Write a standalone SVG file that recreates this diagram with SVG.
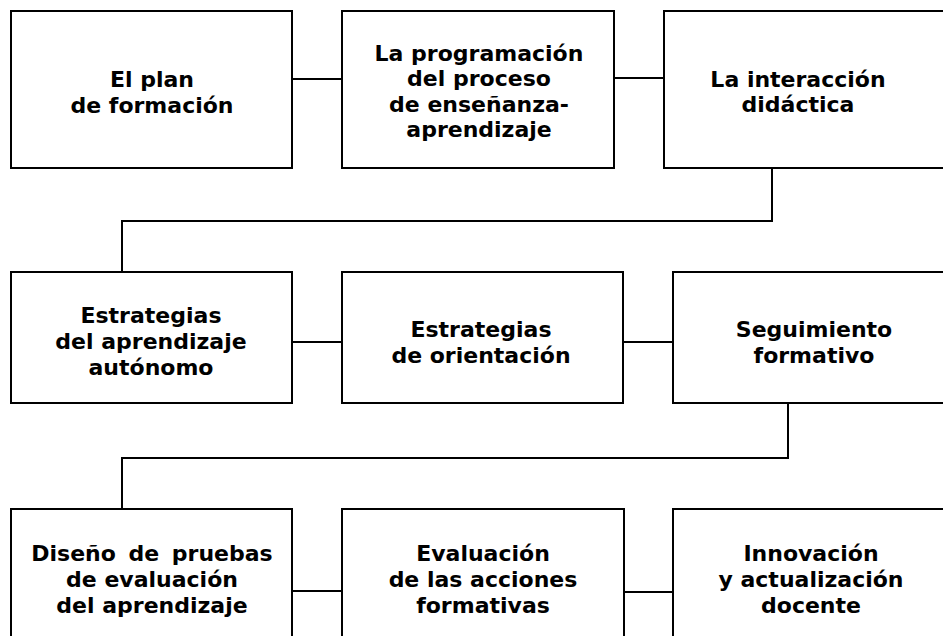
<svg xmlns="http://www.w3.org/2000/svg" width="943" height="636" viewBox="0 0 943 636">
<style>
.box{fill:#fff;stroke:#000;stroke-width:2}
.c{fill:none;stroke:#000;stroke-width:2}
text{font-family:"DejaVu Sans","Liberation Sans",sans-serif;font-weight:bold;font-size:22px;fill:#000;text-anchor:middle}
</style>
<rect width="943" height="636" fill="#fff"/>
<g id="connectors">
<line class="c" x1="292" y1="79" x2="342" y2="79"/>
<line class="c" x1="614" y1="78" x2="664" y2="78"/>
<polyline class="c" points="772,168 772,221 122,221 122,272"/>
<line class="c" x1="292" y1="342" x2="342" y2="342"/>
<line class="c" x1="623" y1="342" x2="673" y2="342"/>
<polyline class="c" points="788,403 788,458 122,458 122,509"/>
<line class="c" x1="292" y1="591" x2="342" y2="591"/>
<line class="c" x1="624" y1="592" x2="673" y2="592"/>
</g>
<g id="n1">
<rect class="box" x="11" y="11" width="281" height="157"/>
<text x="152" y="87">El plan</text>
<text x="152" y="113">de formación</text>
</g>
<g id="n2">
<rect class="box" x="342" y="11" width="272" height="157"/>
<text x="479" y="61">La programación</text>
<text x="479" y="86">del proceso</text>
<text x="479" y="112">de enseñanza-</text>
<text x="479" y="137">aprendizaje</text>
</g>
<g id="n3">
<rect class="box" x="664" y="11" width="290" height="157"/>
<text x="798" y="87">La interacción</text>
<text x="798" y="112">didáctica</text>
</g>
<g id="n4">
<rect class="box" x="11" y="272" width="281" height="131"/>
<text x="151" y="323">Estrategias</text>
<text x="151" y="349">del aprendizaje</text>
<text x="151" y="375">autónomo</text>
</g>
<g id="n5">
<rect class="box" x="342" y="272" width="281" height="131"/>
<text x="481" y="337">Estrategias</text>
<text x="481" y="363">de orientación</text>
</g>
<g id="n6">
<rect class="box" x="673" y="272" width="281" height="131"/>
<text x="814" y="337">Seguimiento</text>
<text x="814" y="363">formativo</text>
</g>
<g id="n7">
<rect class="box" x="11" y="509" width="281" height="140"/>
<text x="152" y="561" word-spacing="5">Diseño de pruebas</text>
<text x="152" y="587">de evaluación</text>
<text x="152" y="613">del aprendizaje</text>
</g>
<g id="n8">
<rect class="box" x="342" y="509" width="282" height="140"/>
<text x="483" y="561">Evaluación</text>
<text x="483" y="587">de las acciones</text>
<text x="483" y="613">formativas</text>
</g>
<g id="n9">
<rect class="box" x="673" y="509" width="281" height="140"/>
<text x="811" y="561">Innovación</text>
<text x="811" y="587">y actualización</text>
<text x="811" y="613">docente</text>
</g>
</svg>
